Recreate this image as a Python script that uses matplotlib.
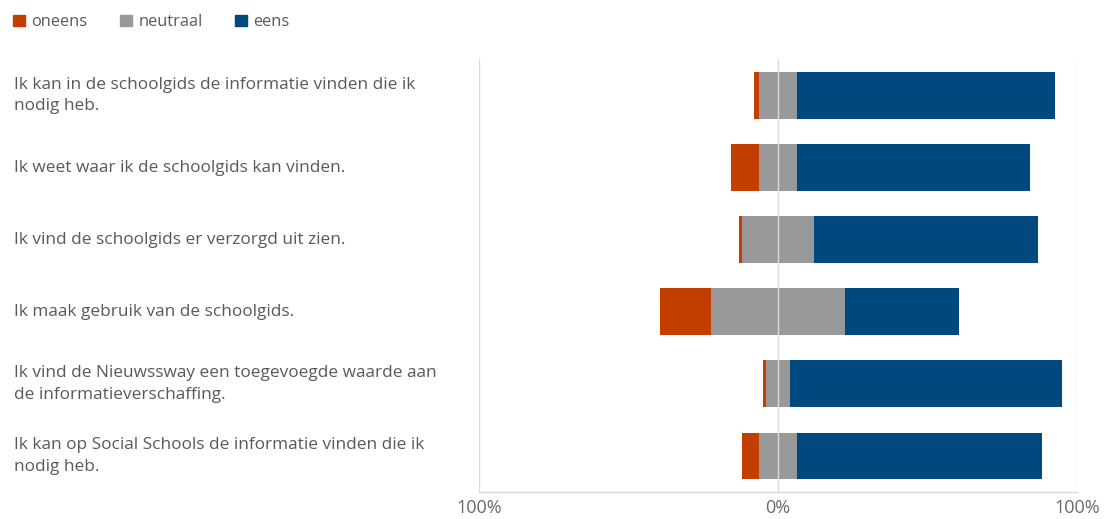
import matplotlib
matplotlib.use("Agg")
import matplotlib.pyplot as plt
from matplotlib.patches import Patch
import matplotlib.transforms as mtransforms
import numpy as np

plt.rcParams['font.family'] = ['Open Sans', 'DejaVu Sans']

categories = [
    "Ik kan in de schoolgids de informatie vinden die ik\nnodig heb.",
    "Ik weet waar ik de schoolgids kan vinden.",
    "Ik vind de schoolgids er verzorgd uit zien.",
    "Ik maak gebruik van de schoolgids.",
    "Ik vind de Nieuwssway een toegevoegde waarde aan\nde informatieverschaffing.",
    "Ik kan op Social Schools de informatie vinden die ik\nnodig heb.",
]
oneens = [1.4, 9.2, 1.0, 17.0, 1.2, 5.4]
neutraal = [13.0, 13.0, 24.2, 44.9, 7.9, 13.0]
eens = [86.0, 77.8, 75.0, 38.2, 91.2, 81.9]
series_names = ["oneens", "neutraal", "eens"]
tick_values = [-100, 0, 100]
tick_labels = ["100%", "0%", "100%"]

c_oneens = "#C23F00"
c_neutraal = "#999999"
c_eens = "#00497E"
text_color = "#595959"
grid_color = "#D9D9D9"

W, H = 1105, 519
fig = plt.figure(figsize=(W / 100, H / 100), dpi=100)
ax = fig.add_axes([479 / W, 1 - 492 / H, (1077 - 479) / W, (492 - 59.5) / H])

y = np.arange(len(categories))
oneens_a = np.array(oneens)
neutraal_a = np.array(neutraal)
eens_a = np.array(eens)
half = neutraal_a / 2.0
h = 0.65
ax.barh(y, oneens_a, left=-half - oneens_a, height=h, color=c_oneens, zorder=2)
ax.barh(y, neutraal_a, left=-half, height=h, color=c_neutraal, zorder=2)
ax.barh(y, eens_a, left=half, height=h, color=c_eens, zorder=2)

ax.set_xlim(-100, 100)
ax.set_ylim(len(categories) - 0.5, -0.5)
for v in tick_values:
    ax.axvline(v, color=grid_color, lw=1.0, zorder=3 if v == 0 else 1)

for s in ["top", "left", "right"]:
    ax.spines[s].set_visible(False)
ax.spines["bottom"].set_color(grid_color)
ax.spines["bottom"].set_linewidth(1.0)

ax.set_yticks([])
ax.set_xticks(tick_values)
ax.set_xticklabels(tick_labels)
ax.tick_params(axis="x", length=0, pad=5, labelsize=13, labelcolor="#6a6a6a")

trans = mtransforms.blended_transform_factory(fig.transFigure, ax.transData)
for yi, lab in zip(y, categories):
    ax.text(14 / W, yi, lab, transform=trans, ha="left", va="center",
            fontsize=12.4, color=text_color, linespacing=1.45)

handles = [Patch(color=c) for c in (c_oneens, c_neutraal, c_eens)]
fig.legend(handles, series_names, loc="upper left", bbox_to_anchor=(2 / W, 1 - 3 / H),
           ncol=3, frameon=False, fontsize=11.8, labelcolor=text_color,
           handlelength=0.7, handleheight=0.7, handletextpad=0.4,
           columnspacing=2.0, borderaxespad=0.3)

fig.savefig("out.png", dpi=100, facecolor="white")
